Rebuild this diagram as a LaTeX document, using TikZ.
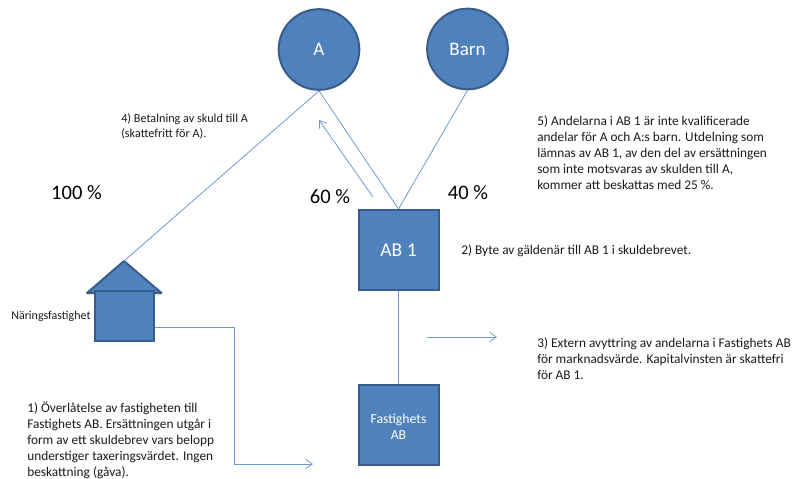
\documentclass[tikz,border=0pt]{standalone}
\usepackage{fontspec}
\setmainfont{Carlito}
\usetikzlibrary{arrows.meta}
\definecolor{fillb}{HTML}{4F81BD}
\definecolor{edgeb}{HTML}{385D8A}
\definecolor{lineb}{HTML}{6E9ACD}
\definecolor{inkb}{HTML}{1A1A1A}
\tikzset{
  x=0.75pt,y=-0.75pt,
  shapeb/.style={draw=edgeb,fill=fillb,line width=1.5pt,text=white,inner sep=0pt,align=center},
  circb/.style={shapeb,circle,minimum size=60.5pt,font=\fontsize{14.3}{17}\selectfont},
  boxb/.style={shapeb,rectangle,minimum size=60pt},
  conn/.style={draw=lineb,line width=0.6pt},
  arrowb/.style={conn,-{Straight Barb[length=5pt,width=7pt]}},
  note/.style={inner sep=0pt,anchor=north west,align=left,text=inkb,font=\fontsize{10}{12}\selectfont},
  pct/.style={inner sep=0pt,text=black,font=\fontsize{15.4}{18}\selectfont},
}
\begin{document}
\begin{tikzpicture}
\useasboundingbox (0,0) rectangle (801,479);
\node[circb] (a) at (319,49.5) {A};
\node[circb] (barn) at (467.5,49) {Barn};
\node[boxb,font=\fontsize{14.7}{17}\selectfont] (ab1) at (398.5,250) {AB 1};
\node[boxb,font=\fontsize{10.3}{12}\selectfont] (fab) at (398.5,424.5) {\rule{0pt}{10pt}Fastighets\\AB};
% house
\draw[draw=edgeb,fill=fillb,line width=1.5pt,line join=round] (87,293) -- (124,261) coordinate (apex) -- (161.5,293) -- cycle;
\node[boxb,minimum width=44pt,minimum height=37.5pt] (hus) at (124.5,316) {};
% connectors
\draw[conn] (a.south) -- (ab1.north);
\draw[conn] (barn.south) -- (ab1.north);
\draw[conn] (a.south) -- (apex);
\draw[conn] (ab1.south) -- (fab.north);
\coordinate (s2) at (373,197); \coordinate (e2) at (319,120);
\draw[arrowb] (s2) -- (e2);
\coordinate (s3) at (427,337); \coordinate (e3) at (497,337);
\draw[arrowb] (s3) -- (e3);
\coordinate (s1) at (155,327); \coordinate (e1) at (313,464);
\draw[arrowb] (s1) -- (234,327) -- (234,464) -- (e1);
% labels
\node[pct] (p100) at (76.5,193) {100 \%};
\node[pct] (p60) at (330,197) {60 \%};
\node[pct] (p40) at (468,193) {40 \%};
\node[note,font=\fontsize{9.15}{11.5}\selectfont] (t4) at (121,113) {4) Betalning av skuld till A\\(skattefritt för A).};
\node[note] (t5) at (537,115) {5) Andelarna i AB 1 är inte kvalificerade\\andelar för A och A:s barn. Utdelning som\\lämnas av AB 1, av den del av ersättningen\\som inte motsvaras av skulden till A,\\kommer att beskattas med 25 \%.};
\node[note] (t2) at (461,244) {2) Byte av gäldenär till AB 1 i skuldebrevet.};
\node[note] (t3) at (537,337) {3) Extern avyttring av andelarna i Fastighets AB\\för marknadsvärde. Kapitalvinsten är skattefri\\för AB 1.};
\node[note] (t1) at (27,402) {1) Överlåtelse av fastigheten till\\Fastighets AB. Ersättningen utgår i\\form av ett skuldebrev vars belopp\\understiger taxeringsvärdet. Ingen\\beskattning (gåva).};
\node[note,font=\fontsize{9}{11}\selectfont] (tn) at (11,311) {Näringsfastighet};
\end{tikzpicture}
\end{document}
